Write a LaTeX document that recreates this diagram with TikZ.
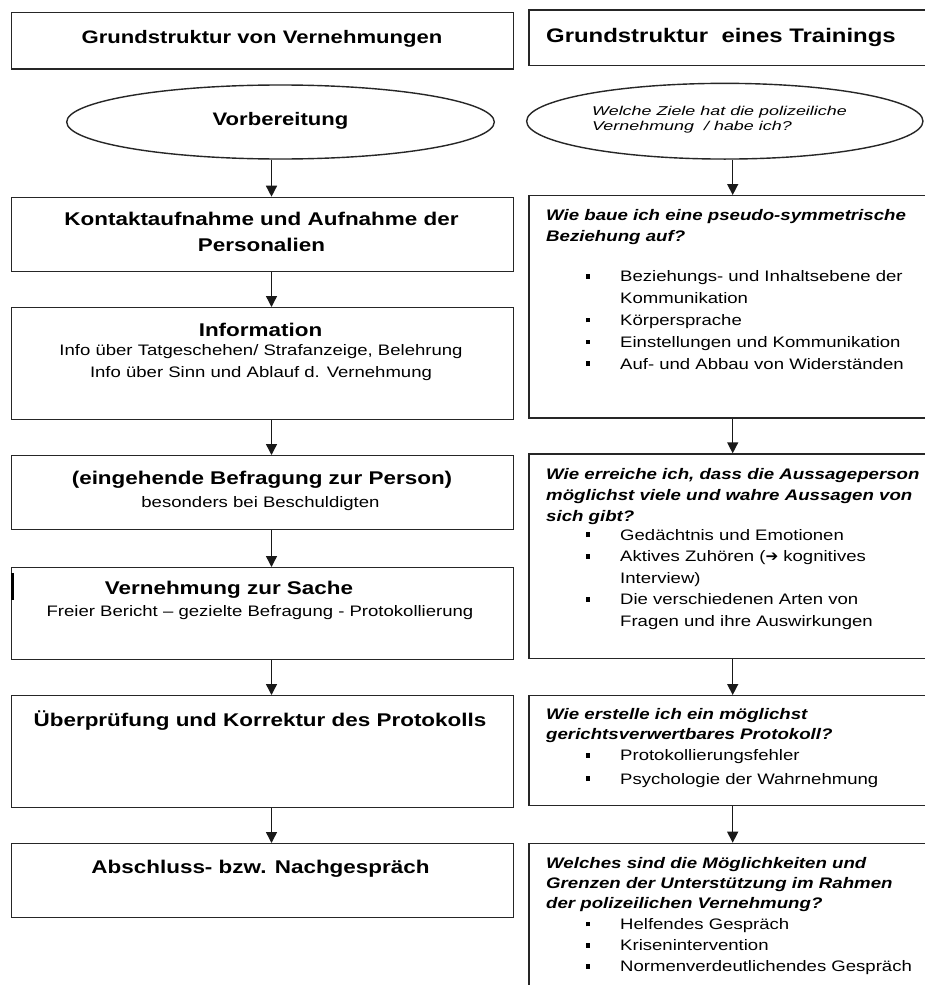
\documentclass[tikz,border=0pt]{standalone}
\usepackage{fontspec}
\setmainfont{Liberation Sans}[FakeStretch=1.22]
\newfontfamily\zielfont{Liberation Sans}[FakeStretch=1.4]
\newfontfamily\pfeilfont{DejaVu Sans}
\usetikzlibrary{shapes.geometric,arrows.meta}

\tikzset{
  kasten/.style={draw=black!85, line width=1.4pt, inner sep=0pt, anchor=north west},
  oval/.style={draw=black!85, ellipse, line width=1.4pt, inner sep=0pt},
  pfeil/.style={draw=black!90, line width=1.4pt, -{Triangle[width=11pt,length=11pt]}},
  kopf/.style={font=\bfseries\fontsize{18.4}{26.7}\selectfont, align=center, anchor=base, inner sep=0pt},
  zeile/.style={font=\fontsize{15.2}{21.6}\selectfont, align=center, anchor=base, inner sep=0pt},
  frage/.style={font=\bfseries\itshape\fontsize{15.3}{#1}\selectfont, align=left, anchor=base west, inner sep=0pt},
  frage/.default=21.5,
  liste/.style={font=\fontsize{15.2}{#1}\selectfont, align=left, anchor=base west, inner sep=0pt},
  liste/.default=21.7
}
\newcommand\punkt{\makebox[34pt][l]{\raisebox{3pt}{\rule{4.2pt}{4.6pt}}}}
\newcommand\einzug{\hspace*{34pt}}

\begin{document}
\begin{tikzpicture}[x=1pt,y=-1pt]

\useasboundingbox (0,0) rectangle (925,985);
\fill[white] (0,0) rectangle (925,985);
\clip (0,0) rectangle (925,985);

\coordinate (achseL) at (271.5,0);
\coordinate (achseR) at (732.7,0);

% linke Spalte
\foreach \name/\oben/\hoehe in {titelL/11.7/56.6, kontakt/196.7/74, info/307/112, person/455/74, sache/567/92, pruefung/695/112, abschluss/843/74}
    \node[kasten, minimum width=502.5pt, minimum height=\hoehe pt] (\name) at (10.5,\oben) {};

% rechte Spalte
\foreach \name/\oben/\hoehe in {titelR/9.3/55.7, beziehung/195/222.3, aussage/453.3/204.4, protokoll/695/110, grenzen/842.7/160}
    \node[kasten, minimum width=416.7pt, minimum height=\hoehe pt] (\name) at (528.3,\oben) {};

\node[oval, minimum width=427.6pt, minimum height=74pt] (vorb) at (280.5,122) {};
\node[oval, minimum width=396.3pt, minimum height=75.7pt] (ziele) at (724.8,121.2) {};

\foreach \a/\b in {vorb/kontakt, kontakt/info, info/person, person/sache, sache/pruefung, pruefung/abschluss}
    \draw[pfeil] (\a.south -| achseL) -- (\b.north -| achseL);

\foreach \a/\b in {ziele/beziehung, beziehung/aussage, aussage/protokoll, protokoll/grenzen}
    \draw[pfeil] (\a.south -| achseR) -- (\b.north -| achseR);

\draw[line width=3.3pt] (12.6,573) -- (12.6,600);

% Texte links (mehrzeilig: y = Grundlinie der letzten Zeile)
\node[kopf, font=\bfseries\fontsize{18.1}{20}\selectfont] (titelLtext) at (262,43.3) {Grundstruktur von Vernehmungen};
\node[kopf, font=\bfseries\fontsize{18.1}{20}\selectfont] (vorbText) at (280.5,125.7) {Vorbereitung};
\node[kopf] (kontaktText) at (261.5,251.7) {Kontaktaufnahme und Aufnahme der\\Personalien};
\node[kopf] (infoKopf) at (260.5,336.7) {Information};
\node[zeile] (infoText) at (261,377.3) {Info über Tatgeschehen/ Strafanzeige, Belehrung\\Info über Sinn und Ablauf d. Vernehmung};
\node[kopf] (personKopf) at (262,484.3) {(eingehende Befragung zur Person)};
\node[zeile] (personText) at (260.5,507.7) {besonders bei Beschuldigten};
\node[kopf] (sacheKopf) at (229,594) {Vernehmung zur Sache};
\node[zeile] (sacheText) at (260,616.7) {Freier Bericht – gezielte Befragung - Protokollierung};
\node[kopf] (pruefungText) at (260,726) {Überprüfung und Korrektur des Protokolls};
\node[kopf] (abschlussText) at (260.5,873.3) {Abschluss- bzw. Nachgespräch};

% Texte rechts
\node[frage, font=\bfseries\fontsize{19.6}{22}\selectfont] (titelRtext) at (546,42.3) {Grundstruktur\ \ eines Trainings};
\node[frage, font=\zielfont\itshape\fontsize{12.8}{15.7}\selectfont] (zieleText) at (592,130.7) {Welche Ziele hat die polizeiliche\\Vernehmung\ \ / habe ich?};

\node[frage] (beziehungFrage) at (546,241.7) {Wie baue ich eine pseudo-symmetrische\\Beziehung auf?};
\node[liste=21.8] (beziehungListe) at (586,369) {\punkt Beziehungs- und Inhaltsebene der\\\einzug Kommunikation\\\punkt Körpersprache\\\punkt Einstellungen und Kommunikation\\\punkt Auf- und Abbau von Widerständen};

\node[frage=20.9] (aussageFrage) at (546,521.7) {Wie erreiche ich, dass die Aussageperson\\möglichst viele und wahre Aussagen von\\sich gibt?};
\node[liste=21.5] (aussageListe) at (586,626) {\punkt Gedächtnis und Emotionen\\\punkt Aktives Zuhören ({\pfeilfont\bfseries ➔}\ kognitives\\\einzug Interview)\\\punkt Die verschiedenen Arten von\\\einzug Fragen und ihre Auswirkungen};

\node[frage=20] (protokollFrage) at (546,739.3) {Wie erstelle ich ein möglichst\\gerichtsverwertbares Protokoll?};
\node[liste=23.3] (protokollListe) at (586,784) {\punkt Protokollierungsfehler\\\punkt Psychologie der Wahrnehmung};

\node[frage=20] (grenzenFrage) at (546,908.3) {Welches sind die Möglichkeiten und\\Grenzen der Unterstützung im Rahmen\\der polizeilichen Vernehmung?};
\node[liste=21.2] (grenzenListe) at (586,971.7) {\punkt Helfendes Gespräch\\\punkt Krisenintervention\\\punkt Normenverdeutlichendes Gespräch};

\end{tikzpicture}
\end{document}
